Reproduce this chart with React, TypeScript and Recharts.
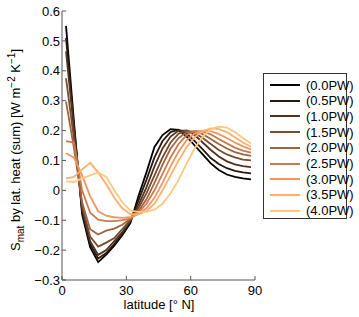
import { LineChart, Line, XAxis, YAxis } from "recharts";

// latitude grid (deg N)
const LAT = [
  1.875, 5.625, 9.375, 13.125, 16.875, 20.625, 24.375, 28.125, 31.875, 35.625, 39.375, 43.125,
  46.875, 50.625, 54.375, 58.125, 61.875, 65.625, 69.375, 73.125, 76.875, 80.625, 84.375, 88.125,
];

const PW_LABELS = ["(0.0PW)", "(0.5PW)", "(1.0PW)", "(1.5PW)", "(2.0PW)", "(2.5PW)", "(3.0PW)", "(3.5PW)", "(4.0PW)"];

// copper colormap, 9 steps
const COLORS = ["#000000", "#28190f", "#50321f", "#774b2f", "#9f643f", "#c77c4f", "#ef955f", "#ffae6f", "#ffc77f"];

const S00 = [0.55, 0.225, -0.08, -0.19, -0.24, -0.215, -0.185, -0.15, -0.11, -0.02, 0.06, 0.145, 0.185, 0.205, 0.202, 0.18, 0.15, 0.12, 0.09, 0.068, 0.053, 0.045, 0.04, 0.037];
const S05 = [0.51, 0.21, -0.07, -0.18, -0.228, -0.21, -0.18, -0.145, -0.105, -0.035, 0.035, 0.11, 0.165, 0.195, 0.203, 0.19, 0.165, 0.137, 0.108, 0.088, 0.074, 0.065, 0.06, 0.057];
const S10 = [0.465, 0.2, -0.06, -0.17, -0.216, -0.2, -0.17, -0.14, -0.1, -0.05, 0.01, 0.08, 0.14, 0.18, 0.2, 0.2, 0.185, 0.16, 0.135, 0.113, 0.097, 0.087, 0.081, 0.078];
const S15 = [0.375, 0.17, -0.05, -0.155, -0.188, -0.175, -0.16, -0.13, -0.1, -0.06, -0.01, 0.05, 0.11, 0.16, 0.19, 0.2, 0.192, 0.175, 0.155, 0.135, 0.12, 0.11, 0.103, 0.1];
const S20 = [0.297, 0.14, -0.04, -0.13, -0.148, -0.135, -0.128, -0.115, -0.095, -0.07, -0.03, 0.025, 0.085, 0.14, 0.175, 0.195, 0.198, 0.188, 0.172, 0.155, 0.14, 0.128, 0.12, 0.115];
const S25 = [0.165, 0.16, 0.0, -0.075, -0.098, -0.103, -0.103, -0.1, -0.095, -0.075, -0.045, 0.0, 0.055, 0.11, 0.155, 0.185, 0.198, 0.197, 0.187, 0.172, 0.157, 0.143, 0.133, 0.126];
const S30 = [0.124, 0.109, 0.05, -0.02, -0.07, -0.085, -0.09, -0.092, -0.09, -0.08, -0.06, -0.025, 0.025, 0.08, 0.13, 0.168, 0.19, 0.2, 0.198, 0.188, 0.175, 0.16, 0.147, 0.137];
const S35 = [0.04, 0.045, 0.07, 0.092, 0.06, 0.02, -0.025, -0.06, -0.08, -0.08, -0.07, -0.045, 0.0, 0.05, 0.1, 0.145, 0.178, 0.198, 0.207, 0.205, 0.195, 0.178, 0.16, 0.146];
const S40 = [0.03, 0.028, 0.04, 0.05, 0.06, 0.045, 0.0, -0.04, -0.068, -0.072, -0.072, -0.065, -0.045, -0.01, 0.035, 0.09, 0.14, 0.18, 0.205, 0.213, 0.21, 0.195, 0.175, 0.157];

const SERIES = [S00, S05, S10, S15, S20, S25, S30, S35, S40];

const X_TICKS = [0, 30, 60, 90];
const Y_TICKS = [-0.3, -0.2, -0.1, 0, 0.1, 0.2, 0.3, 0.4, 0.5, 0.6];

const FONT = '"Liberation Sans", Arial, sans-serif';
const AXIS_COLOR = "#555";

const data = LAT.map((lat, i) => {
  const row: Record<string, number> = { lat };
  SERIES.forEach((s, k) => {
    row[`s${k}`] = s[i];
  });
  return row;
});

const fmtY = (v: number) => {
  if (Math.abs(v) < 1e-9) return "0";
  return v < 0 ? `\u2212${Math.abs(v).toFixed(1)}` : v.toFixed(1);
};

function Legend() {
  return (
    <div
      style={{
        position: "absolute",
        left: 263,
        top: 73,
        width: 84,
        height: 146,
        border: "1px solid #333",
        boxSizing: "border-box",
        fontFamily: FONT,
        fontSize: 13,
        overflow: "visible",
      }}
    >
      {PW_LABELS.map((label, i) => (
        <div
          key={label}
          style={{ position: "absolute", left: 6, top: 3 + i * 15.7, height: 16, display: "flex", alignItems: "center", whiteSpace: "nowrap" }}
        >
          <span style={{ display: "inline-block", width: 30, height: 2, background: COLORS[i], marginRight: 6 }} />
          <span>{label}</span>
        </div>
      ))}
    </div>
  );
}

export default function App() {
  return (
    <div style={{ position: "absolute", left: 0, top: 0, width: 359, height: 317, background: "#fff", fontFamily: FONT }}>
      <LineChart width={359} height={317} data={data} margin={{ top: 11, right: 104, bottom: 0, left: 0 }}>
        <XAxis
          dataKey="lat"
          type="number"
          domain={[0, 90]}
          ticks={X_TICKS}
          height={37}
          tickSize={-4}
          tickMargin={10}
          stroke={AXIS_COLOR}
          tick={{ fill: "#000", fontSize: 13, fontFamily: FONT }}
        />
        <XAxis
          xAxisId="top"
          dataKey="lat"
          type="number"
          orientation="top"
          domain={[0, 90]}
          ticks={X_TICKS}
          height={0}
          tickSize={-4}
          tick={false}
          stroke={AXIS_COLOR}
        />
        <YAxis
          type="number"
          domain={[-0.3, 0.6]}
          ticks={Y_TICKS}
          width={62}
          tickSize={-4}
          tickMargin={6}
          tickFormatter={fmtY}
          stroke={AXIS_COLOR}
          tick={{ fill: "#000", fontSize: 13, fontFamily: FONT }}
        />
        <YAxis
          yAxisId="right"
          type="number"
          orientation="right"
          domain={[-0.3, 0.6]}
          ticks={Y_TICKS}
          width={0}
          tickSize={-4}
          tick={false}
          stroke={AXIS_COLOR}
        />
        {SERIES.map((_, k) => (
          <Line
            key={k}
            dataKey={`s${k}`}
            type="linear"
            stroke={COLORS[k]}
            strokeWidth={1.8}
            dot={false}
            isAnimationActive={false}
          />
        ))}
        <text x={159} y={309} textAnchor="middle" fontSize={13} fontFamily={FONT} fill="#000">
          latitude [° N]
        </text>
        <text transform="rotate(-90)" x={-150} y={20} textAnchor="middle" fontSize={13} fontFamily={FONT} fill="#000">
          <tspan>S</tspan>
          <tspan dy={4} fontSize={10}>mat</tspan>
          <tspan dy={-4}> by lat. heat (sum) [W m</tspan>
          <tspan dy={-5} fontSize={10}>−2</tspan>
          <tspan dy={5}> K</tspan>
          <tspan dy={-5} fontSize={10}>−1</tspan>
          <tspan dy={5}>]</tspan>
        </text>
      </LineChart>
      <Legend />
    </div>
  );
}
